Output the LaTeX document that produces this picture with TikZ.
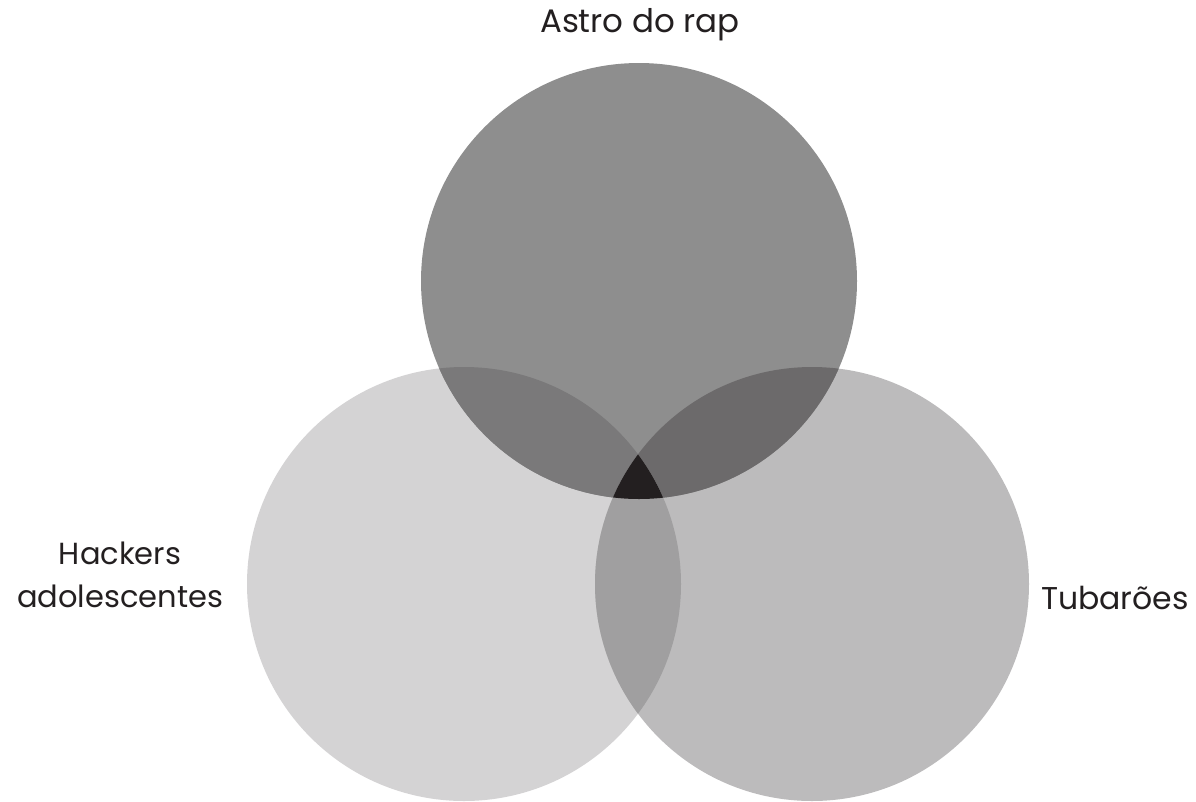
\documentclass[tikz,border=0pt]{standalone}
\usepackage{fontspec}
\setmainfont{Poppins}
\usepackage{tikz}

\definecolor{rapgray}{HTML}{8E8E8E}
\definecolor{hackgray}{HTML}{D4D3D4}
\definecolor{sharkgray}{HTML}{BCBBBC}
\definecolor{raphack}{HTML}{7A797A}
\definecolor{rapshark}{HTML}{6C6A6B}
\definecolor{hackshark}{HTML}{A09FA0}
\definecolor{allthree}{HTML}{231F20}

\begin{document}
\begin{tikzpicture}[x=1pt, y=-1pt]
  \useasboundingbox (0,0) rectangle (1196,801);
  \def\rapset{(639,281) circle (218)}
  \def\hackset{(464,584) circle (217)}
  \def\sharkset{(812,584) circle (217)}
  % the three sets
  \fill[hackgray] \hackset;
  \fill[sharkgray] \sharkset;
  \fill[rapgray] \rapset;
  % pairwise overlaps
  \begin{scope}
    \clip \rapset;
    \fill[raphack] \hackset;
  \end{scope}
  \begin{scope}
    \clip \rapset;
    \fill[rapshark] \sharkset;
  \end{scope}
  \begin{scope}
    \clip \hackset;
    \fill[hackshark] \sharkset;
  \end{scope}
  % all three
  \begin{scope}
    \clip \rapset;
    \clip \hackset;
    \fill[allthree] \sharkset;
  \end{scope}
  % labels
  \node[font=\fontsize{32.5}{43}\selectfont, text=allthree] (rap) at (640,25) {Astro do rap};
  \node[font=\fontsize{30.5}{43}\selectfont, text=allthree, align=center] (hack) at (120,575) {Hackers\\adolescentes};
  \node[font=\fontsize{31.5}{43}\selectfont, text=allthree] (shark) at (1115,598) {Tubarões};
\end{tikzpicture}
\end{document}
